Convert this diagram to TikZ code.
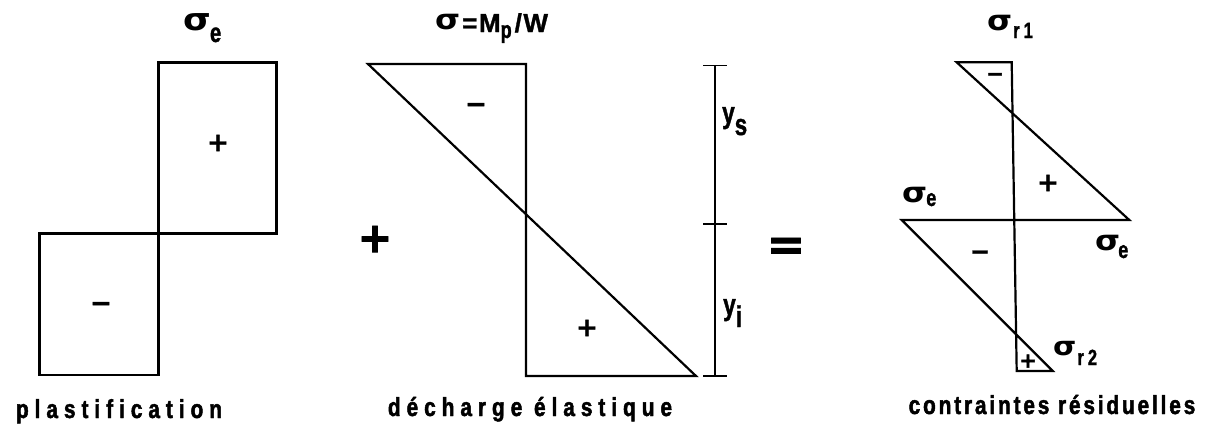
\documentclass[tikz,border=0pt]{standalone}
\usepackage{fontspec}
\setmainfont{Liberation Sans}
\newfontfamily\symf{DejaVu Sans}
\newfontfamily\sgnf[FakeBold=1.6]{DejaVu Sans}
\newfontfamily\labA[FakeStretch=0.8,LetterSpace=23,FakeBold=1.8]{Liberation Sans}
\newfontfamily\labB[FakeStretch=0.8,LetterSpace=11,FakeBold=1.8]{Liberation Sans}
\newfontfamily\subf[FakeStretch=0.75,FakeBold=1.3]{Liberation Sans}
\newfontfamily\eqf[LetterSpace=6,FakeBold=1.2]{Liberation Sans}
\newcommand\sg[1]{\scalebox{1.15}[1]{\symf\bfseries\fontsize{#1}{#1}\selectfont σ}}
\newcommand\sbt[2]{{\subf\bfseries\fontsize{#1}{#1}\selectfont #2}}
\begin{document}
\begin{tikzpicture}[x=1pt,y=-1pt,
  ln/.style={line width=2.2pt,line join=miter,line cap=round},
  dimline/.style={line width=1.8pt},
  sgn/.style={inner sep=0pt,font=\sgnf\bfseries\fontsize{26}{26}\selectfont},
  smallsgn/.style={inner sep=0pt,font=\sgnf\bfseries\fontsize{21}{21}\selectfont},
  bigsgn/.style={inner sep=0pt,font=\sgnf\bfseries\fontsize{42}{42}\selectfont},
  lab/.style={inner sep=0pt,anchor=base west},
  caption/.style={inner sep=0pt,anchor=base}]
\useasboundingbox (0,0) rectangle (1232,432);

% ---------- plastification ----------
\draw[ln] (158.5,62.5) rectangle (276.5,233.5);
\draw[ln] (39.5,233.5) rectangle (158.5,375);
\node[sgn] (p1) at (218,143) {+};
\node[sgn] (m1) at (101,307) {−};
\node[lab] (se1) at (183,30) {\sg{31}\kern-1pt\raisebox{-12pt}{\sbt{27}{e}}};
\node[caption] (cap1) at (119,418) {\labA\bfseries\fontsize{26}{26}\selectfont plastification};

% ---------- big plus ----------
\node[bigsgn] (plus) at (375,239) {+};

% ---------- decharge elastique ----------
\coordinate (A) at (368,64);
\coordinate (B) at (526,64);
\coordinate (C) at (526,376);
\coordinate (D) at (696,376);
\draw[ln] (A) -- (B) -- (C) -- (D) -- cycle;
\node[sgn] (m2) at (476,108) {−};
\node[sgn] (p2) at (587,328) {+};
\coordinate (d1) at (715,65.5);
\coordinate (d2) at (715,224);
\coordinate (d3) at (715,376);
\draw[dimline] (d1) -- (d3);
\draw[dimline] ([xshift=-12pt]d1) -- ([xshift=12pt]d1);
\draw[dimline] ([xshift=-12pt]d2) -- ([xshift=12pt]d2);
\draw[dimline] ([xshift=-12pt]d3) -- ([xshift=12pt]d3);
\node[lab] (ys) at (722,123) {\sbt{30}{y}\raisebox{-12pt}{\sbt{30}{s}}};
\node[lab] (yi) at (723,315) {\sbt{30}{y}\raisebox{-12pt}{\sbt{30}{i}}};
\node[lab] (mp) at (435,32) {\raisebox{3pt}{\sg{28}}\kern2pt{\eqf\bfseries\fontsize{26}{26}\selectfont =M\raisebox{-6pt}{\sbt{24}{p}}\kern3pt/W}};
\node[caption] (cap2) at (530,416) {\labA\bfseries\fontsize{26}{26}\selectfont décharge élastique};

% ---------- equals ----------
\node[bigsgn,font=\sgnf\bfseries\fontsize{46}{46}\selectfont] (eq) at (786,249) {=};

% ---------- contraintes residuelles ----------
\coordinate (T1) at (956.7,62.3);
\coordinate (T2) at (1011.7,62.3);
\coordinate (B1) at (1016.7,371);
\coordinate (B2) at (1052.7,371);
\coordinate (M1) at (901.7,220);
\coordinate (M2) at (1129.3,220);
\draw[ln] (T1) -- (T2) -- (B1) -- (B2) -- (M1) -- (M2) -- cycle;
\node[smallsgn] (m3) at (995,77) {−};
\node[sgn] (p3) at (1048,183) {+};
\node[smallsgn,font=\sgnf\bfseries\fontsize{24}{24}\selectfont] (m4) at (980,255) {−};
\node[smallsgn] (p4) at (1028,361) {+};
\node[lab] (sr1) at (987,30) {\sg{28}\kern1pt\raisebox{-8pt}{\sbt{22}{r\kern4pt 1}}};
\node[lab] (se2) at (902,202) {\sg{28}\kern-1pt\raisebox{-4pt}{\sbt{24}{e}}};
\node[lab] (se3) at (1095,250) {\sg{28}\kern-2pt\raisebox{-8pt}{\sbt{24}{e}}};
\node[lab] (sr2) at (1053,355) {\sg{26}\kern1pt\raisebox{-10pt}{\sbt{22}{r\kern4pt 2}}};
\node[caption] (cap3) at (1052,414) {\labB\bfseries\fontsize{26}{26}\selectfont contraintes résiduelles};
\end{tikzpicture}
\end{document}
